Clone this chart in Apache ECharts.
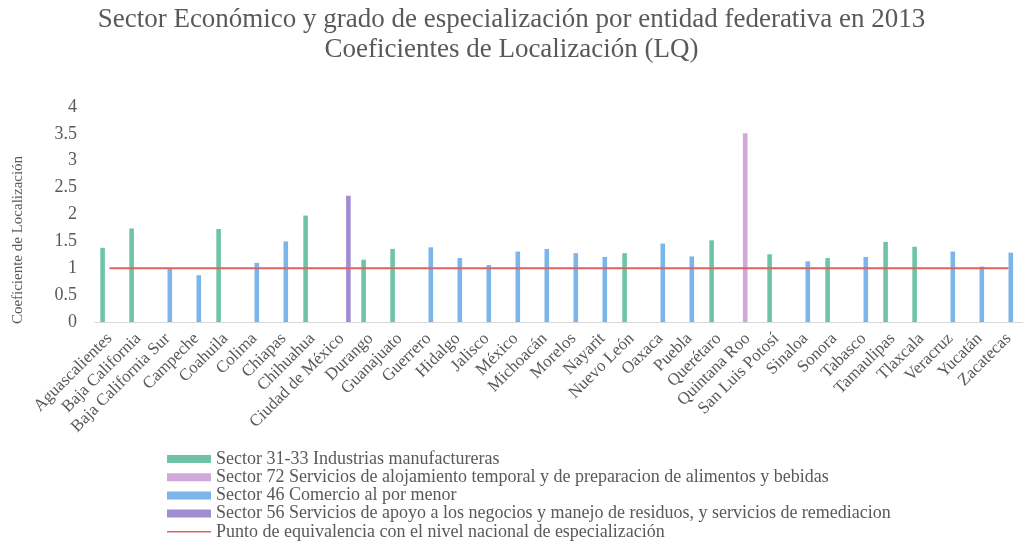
<!DOCTYPE html>
<html>
<head>
<meta charset="utf-8">
<script src="https://cdn.jsdelivr.net/npm/echarts@6/dist/echarts.min.js"></script>
<style>html,body{margin:0;padding:0;background:#fff;}#c{width:1023px;height:545px;}</style>
</head>
<body>
<div id="c"></div>
<script>
var categories = ['Aguascalientes','Baja California','Baja California Sur','Campeche','Coahuila','Colima','Chiapas','Chihuahua','Ciudad de México','Durango','Guanajuato','Guerrero','Hidalgo','Jalisco','México','Michoacán','Morelos','Nayarit','Nuevo León','Oaxaca','Puebla','Querétaro','Quintana Roo','San Luis Potosí','Sinaloa','Sonora','Tabasco','Tamaulipas','Tlaxcala','Veracruz','Yucatán','Zacatecas'];
var lqValues = [1.38,1.74,0.99,0.87,1.73,1.10,1.50,1.98,2.35,1.16,1.36,1.39,1.19,1.06,1.31,1.36,1.28,1.21,1.28,1.46,1.22,1.52,3.51,1.26,1.13,1.19,1.21,1.49,1.40,1.31,1.03,1.29];
var sectorOf = ['31-33','31-33','46','46','31-33','46','46','31-33','56','31-33','31-33','46','46','46','46','46','46','46','31-33','46','46','31-33','72','31-33','46','31-33','46','31-33','31-33','46','46','46'];
var sectorCodes = ['31-33','72','46','56'];
var sectorNames = ['Sector 31-33 Industrias manufactureras','Sector 72 Servicios de alojamiento temporal y de preparacion de alimentos y bebidas','Sector 46 Comercio al por menor','Sector 56 Servicios de apoyo a los negocios y manejo de residuos, y servicios de remediacion'];
var sectorColors = ['#6fc4a7','#d2a7da','#7bb5ea','#a18dd2'];
var refName = 'Punto de equivalencia con el nivel nacional de especialización';
var refValue = 1;
var yTicks = [0,0.5,1,1.5,2,2.5,3,3.5,4];

var font = '"Liberation Serif","Times New Roman",serif';
var gray = '#595959';
var red = '#e06262';

var series = sectorCodes.map(function(code, k){
  return {
    name: sectorNames[k],
    type: 'bar',
    barWidth: 4.6,
    barGap: '0%',
    itemStyle: {color: sectorColors[k]},
    data: lqValues.map(function(v, i){ return sectorOf[i] === code ? v : '-'; })
  };
});
series.push({
  name: refName,
  type: 'line',
  symbol: 'none',
  lineStyle: {color: red, width: 2},
  itemStyle: {color: red},
  data: categories.map(function(){ return refValue; }),
  z: 5
});

var chart = echarts.init(document.getElementById('c'), null, {renderer: 'canvas'});
chart.setOption({
  animation: false,
  backgroundColor: '#fff',
  title: {
    text: 'Sector Económico y grado de especialización por entidad federativa en 2013\nCoeficientes de Localización (LQ)',
    left: 'center',
    top: 0,
    textStyle: {fontFamily: font, fontSize: 27, fontWeight: 'normal', color: gray, lineHeight: 30}
  },
  grid: {left: 95, right: 0, top: 107, bottom: 223, containLabel: false},
  legend: {
    orient: 'vertical',
    left: 167,
    top: 450,
    padding: 0,
    itemWidth: 44,
    itemHeight: 8,
    itemGap: 0.2,
    textStyle: {fontFamily: font, fontSize: 18, lineHeight: 18, color: gray},
    data: sectorNames.map(function(n){ return {name: n, icon: 'rect'}; }).concat([{name: refName, icon: 'path://M0,0M0,3.2H44V4.8H0ZM44,8'}])
  },
  xAxis: {
    type: 'category',
    data: categories,
    axisLine: {lineStyle: {color: '#d9d9d9', width: 1}},
    axisTick: {show: false},
    axisLabel: {rotate: 45, interval: 0, margin: 14, fontFamily: font, fontSize: 17, color: gray}
  },
  yAxis: {
    type: 'value',
    min: yTicks[0],
    max: yTicks[yTicks.length - 1],
    interval: yTicks[1] - yTicks[0],
    axisLine: {show: false},
    axisTick: {show: false},
    splitLine: {show: false},
    axisLabel: {margin: 18, fontFamily: font, fontSize: 18, color: gray}
  },
  graphic: [{
    type: 'text',
    x: 18,
    y: 240,
    rotation: Math.PI / 2,
    style: {text: 'Coeficiente de Localización', fontFamily: font, fontSize: 15, fill: gray, textAlign: 'center', textVerticalAlign: 'middle'}
  }],
  series: series
});
</script>
</body>
</html>
